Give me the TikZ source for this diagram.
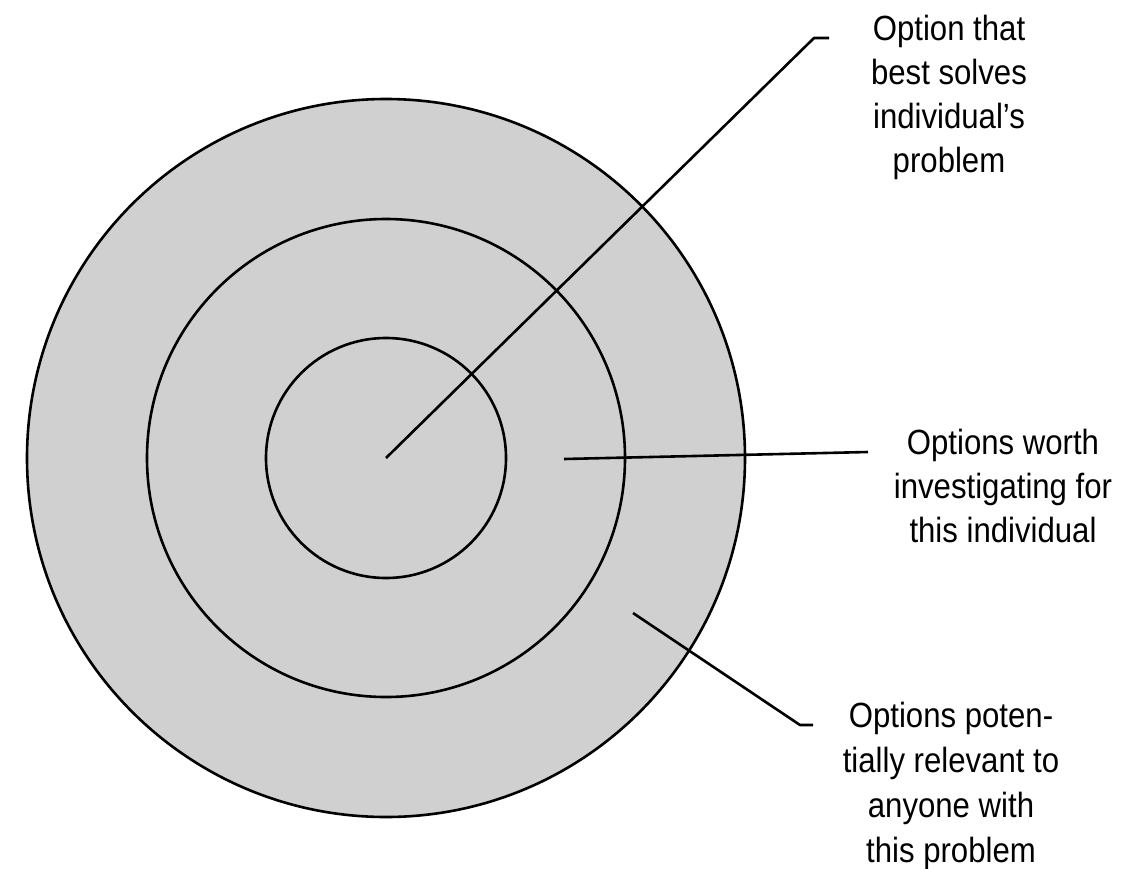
\documentclass[tikz,border=0pt]{standalone}
\usepackage{fontspec}
\setmainfont{Liberation Sans}[FakeStretch=0.89]
\begin{document}
\begin{tikzpicture}[x=1pt,y=-1pt,
  ring/.style={draw=black,line width=2.6pt,fill=ringgrey},
  leader/.style={draw=black,line width=2.6pt,line join=round},
  lbl/.style={align=center,inner sep=0pt}]
\definecolor{ringgrey}{RGB}{208,208,208}
\useasboundingbox (0,0) rectangle (1143,868);
\coordinate (c) at (386,458);
\path[ring] (c) circle[radius=359];
\path[ring] (c) circle[radius=239];
\path[ring] (c) circle[radius=120];
% labels
\node[lbl,font=\fontsize{35}{44}\selectfont] (t1) at (949,97) {Option that\\best solves\\individual’s\\problem};
\node[lbl,font=\fontsize{35}{44}\selectfont] (t2) at (1003,486) {Options worth\\investigating for\\this individual};
\node[lbl,font=\fontsize{35}{45}\selectfont] (t3) at (951,786) {Options poten-\\tially relevant to\\anyone with\\this problem};
% leader points
\coordinate (a1) at (814,38);
\coordinate (a1e) at (829,38);
\coordinate (b0) at (564,459);
\coordinate (b1) at (868,452);
\coordinate (d0) at (633,613);
\coordinate (d1) at (800,725);
\coordinate (d1e) at (813,725);
\draw[leader] (c) -- (a1) -- (a1e);
\draw[leader] (b0) -- (b1);
\draw[leader] (d0) -- (d1) -- (d1e);
\end{tikzpicture}
\end{document}
